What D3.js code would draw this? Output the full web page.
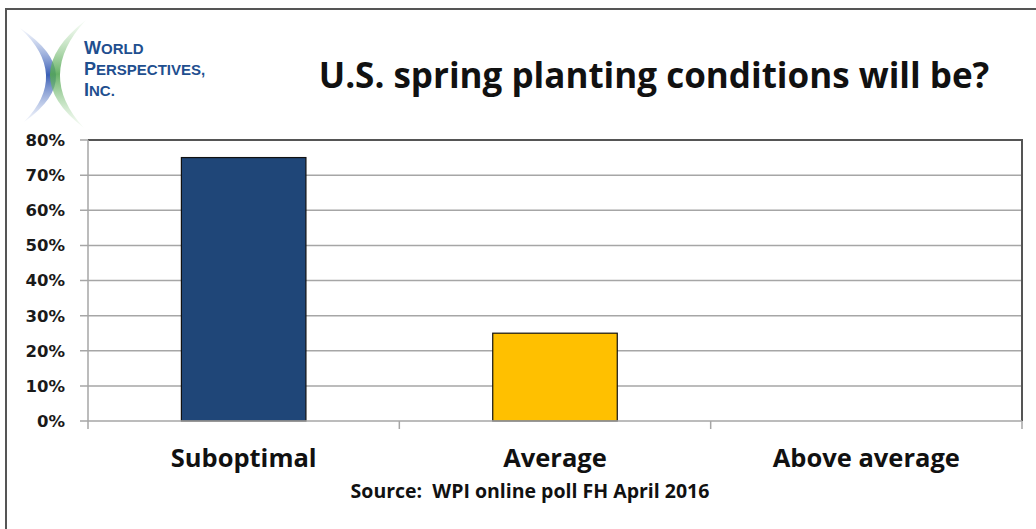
<!DOCTYPE html>
<html lang="en">
<head>
    <meta charset="UTF-8">
    <title>U.S. spring planting conditions will be?</title>
    <style>
        body { margin: 0; background: #fff; }
        .ytick { font-family: "DejaVu Sans", Verdana, sans-serif; font-weight: bold; font-size: 16.5px; fill: #1a1a1a; }
        .xlabel { font-family: "Open Sans", sans-serif; font-weight: bold; font-size: 25.5px; fill: #111; }
        .title { font-family: "Open Sans", sans-serif; font-weight: bold; font-size: 35px; fill: #111; }
        .source { font-family: "Open Sans", sans-serif; font-weight: bold; font-size: 19.5px; fill: #111; }
        .logo { font-family: "Liberation Sans", sans-serif; font-weight: bold; fill: #1f4f8f; }
    </style>
    <script src="https://d3js.org/d3.v7.min.js"></script>
</head>
<body>
    <div id="chart"></div>
    <script>
        const categories = ["Suboptimal", "Average", "Above average"];
        const shares = [0.75, 0.25, 0];
        const barColors = ["#1f4678", "#ffc000", "#7f7f7f"];
        const yTicks = [0, 0.1, 0.2, 0.3, 0.4, 0.5, 0.6, 0.7, 0.8];

        const width = 1036, height = 529;
        const plot = { left: 88, right: 1022, top: 140, bottom: 421 };

        const svg = d3.select("#chart").append("svg")
            .attr("width", width)
            .attr("height", height);

        // outer frame (left + top edges visible)
        svg.append("path")
            .attr("d", `M6,${height} L6,9 L${width},9`)
            .attr("fill", "none")
            .attr("stroke", "#555")
            .attr("stroke-width", 2);

        // logo
        const logo = svg.append("g");
        const defs = svg.append("defs");
        const gb = defs.append("linearGradient").attr("id", "gblue").attr("x1", 0).attr("y1", 0).attr("x2", 0).attr("y2", 1);
        gb.append("stop").attr("offset", 0).attr("stop-color", "#8fa6dc").attr("stop-opacity", 0.1);
        gb.append("stop").attr("offset", 0.5).attr("stop-color", "#3b5fb5").attr("stop-opacity", 1);
        gb.append("stop").attr("offset", 1).attr("stop-color", "#8fa6dc").attr("stop-opacity", 0.1);
        const gg = defs.append("linearGradient").attr("id", "ggreen").attr("x1", 0).attr("y1", 0).attr("x2", 0).attr("y2", 1);
        gg.append("stop").attr("offset", 0).attr("stop-color", "#a8d8a0").attr("stop-opacity", 0.1);
        gg.append("stop").attr("offset", 0.5).attr("stop-color", "#56a956").attr("stop-opacity", 1);
        gg.append("stop").attr("offset", 1).attr("stop-color", "#a8d8a0").attr("stop-opacity", 0.1);

        logo.append("path")
            .attr("d", "M20,28 Q90,75 24,122 Q70,75 20,28 Z")
            .attr("fill", "url(#gblue)");
        logo.append("path")
            .attr("d", "M86,20 Q15,75 84,128 Q35,75 86,20 Z")
            .attr("fill", "url(#ggreen)")
            .attr("opacity", 0.9);

        const logoLines = [["W", "ORLD", 54], ["P", "ERSPECTIVES,", 75], ["I", "NC.", 96]];
        logoLines.forEach(([a, b, y]) => {
            const t = logo.append("text").attr("class", "logo").attr("x", 84).attr("y", y);
            t.append("tspan").attr("font-size", 18).text(a);
            t.append("tspan").attr("font-size", 15).text(b);
        });

        // title
        svg.append("text")
            .attr("class", "title")
            .attr("x", 654)
            .attr("y", 88)
            .attr("text-anchor", "middle")
            .text("U.S. spring planting conditions will be?");

        const x = d3.scaleBand()
            .domain(categories)
            .range([plot.left, plot.right])
            .padding(0);

        const y = d3.scaleLinear()
            .domain([0, 0.8])
            .range([plot.bottom, plot.top]);

        // gridlines + y ticks
        svg.append("g")
            .selectAll("line")
            .data(yTicks.slice(1, -1))
            .join("line")
            .attr("x1", plot.left - 8)
            .attr("x2", plot.right)
            .attr("y1", d => y(d))
            .attr("y2", d => y(d))
            .attr("stroke", "#a6a6a6")
            .attr("stroke-width", 1.5);

        svg.append("g")
            .selectAll("text")
            .data(yTicks)
            .join("text")
            .attr("class", "ytick")
            .attr("x", 65)
            .attr("y", d => y(d))
            .attr("dy", "0.36em")
            .attr("text-anchor", "end")
            .text(d3.format(".0%"));

        // plot area borders
        svg.append("line")
            .attr("x1", plot.left - 8).attr("x2", plot.left)
            .attr("y1", plot.top).attr("y2", plot.top)
            .attr("stroke", "#a6a6a6").attr("stroke-width", 1.5);
        svg.append("path")
            .attr("d", `M${plot.left},${plot.top} L${plot.right},${plot.top} L${plot.right},${plot.bottom}`)
            .attr("fill", "none")
            .attr("stroke", "#555")
            .attr("stroke-width", 2);

        // bars
        const barW = x.bandwidth() * 0.4;
        svg.append("g")
            .selectAll("rect")
            .data(categories.map((c, i) => ({ c, v: shares[i], col: barColors[i] })))
            .join("rect")
            .attr("x", d => x(d.c) + (x.bandwidth() - barW) / 2)
            .attr("y", d => y(d.v))
            .attr("width", barW)
            .attr("height", d => y(0) - y(d.v))
            .attr("fill", d => d.col)
            .attr("stroke", d => d.v > 0 ? "#111" : "none")
            .attr("stroke-width", 1.2);

        // axes lines
        svg.append("line")
            .attr("x1", plot.left - 8).attr("x2", plot.right)
            .attr("y1", plot.bottom).attr("y2", plot.bottom)
            .attr("stroke", "#a6a6a6").attr("stroke-width", 1.5);
        svg.append("line")
            .attr("x1", plot.left).attr("x2", plot.left)
            .attr("y1", plot.top).attr("y2", plot.bottom + 8)
            .attr("stroke", "#a6a6a6").attr("stroke-width", 1.5);

        const xTicks = categories.map(c => x(c)).concat([plot.right]);
        svg.append("g")
            .selectAll("line")
            .data(xTicks.slice(1))
            .join("line")
            .attr("x1", d => d).attr("x2", d => d)
            .attr("y1", plot.bottom).attr("y2", plot.bottom + 8)
            .attr("stroke", "#a6a6a6").attr("stroke-width", 1.5);

        // category labels
        svg.append("g")
            .selectAll("text")
            .data(categories)
            .join("text")
            .attr("class", "xlabel")
            .attr("x", d => x(d) + x.bandwidth() / 2)
            .attr("y", 467)
            .attr("text-anchor", "middle")
            .text(d => d);

        svg.append("text")
            .attr("class", "source")
            .attr("x", 530)
            .attr("y", 498)
            .attr("text-anchor", "middle")
            .attr("xml:space", "preserve")
            .style("white-space", "pre")
            .text("Source:  WPI online poll FH April 2016");
    </script>
</body>
</html>
